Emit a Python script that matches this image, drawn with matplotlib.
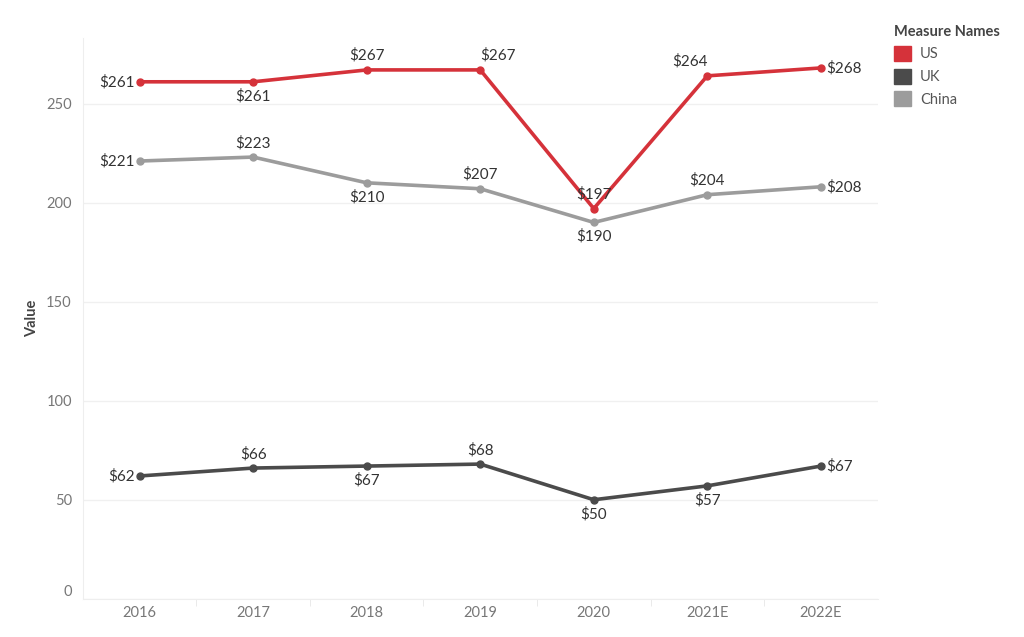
import matplotlib.pyplot as plt
from matplotlib.patches import Patch

plt.rcParams['font.family'] = ['Lato', 'DejaVu Sans']

years = ['2016', '2017', '2018', '2019', '2020', '2021E', '2022E']
us = [261, 261, 267, 267, 197, 264, 268]
uk = [62, 66, 67, 68, 50, 57, 67]
china = [221, 223, 210, 207, 190, 204, 208]

# where each label sits relative to its point
us_pos = ['left', 'below', 'above', 'aboveright', 'above', 'aboveleft', 'right']
uk_pos = ['left', 'above', 'below', 'above', 'below', 'below', 'right']
china_pos = ['left', 'above', 'below', 'above', 'below', 'above', 'right']

red = '#d5323a'
dark = '#4b4b4b'
grey = '#9c9c9c'

offsets = {
    'left': ((-5, 0), 'right', 'center'),
    'right': ((5, 0), 'left', 'center'),
    'above': ((0, 7), 'center', 'bottom'),
    'below': ((0, -7), 'center', 'top'),
    'aboveright': ((0, 7), 'left', 'bottom'),
    'aboveleft': ((0, 7), 'right', 'bottom'),
}

fig = plt.figure(figsize=(10.24, 6.37), dpi=100)
ax = fig.add_axes([0.081, 0.06, 0.776, 0.88])

x = list(range(len(years)))
for vals, pos, col in [(us, us_pos, red), (uk, uk_pos, dark), (china, china_pos, grey)]:
    ax.plot(x, vals, color=col, linewidth=2.6, marker='o', markersize=5, zorder=3)
    for xi, v, p in zip(x, vals, pos):
        off, ha, va = offsets[p]
        ax.annotate('$' + str(v), (xi, v), xytext=off, textcoords='offset pixels',
                    ha=ha, va=va, fontsize=11, color='#333333', zorder=4)

ax.set_xlim(-0.5, 6.5)
ax.set_ylim(0, 283)
ax.set_xticks(x)
ax.set_xticklabels(years)
ax.set_xticks([i + 0.5 for i in range(6)], minor=True)
ax.set_yticks([0, 50, 100, 150, 200, 250])
ax.tick_params(axis='x', which='major', length=0, pad=5, labelsize=10.5, labelcolor='#777777')
ax.tick_params(axis='x', which='minor', length=5, color='#e6e6e6')
ax.tick_params(axis='y', length=0, pad=8, labelsize=10.5, labelcolor='#777777')
ax.get_yticklabels()[0].set_verticalalignment('bottom')
ax.grid(axis='y', color='#f0f0f0', linewidth=1)
ax.set_axisbelow(True)
for s in ['top', 'right']:
    ax.spines[s].set_visible(False)
ax.spines['left'].set_color('#eeeeee')
ax.spines['bottom'].set_color('#eeeeee')
ax.set_ylabel('Value', fontsize=10.5, color='#444444', fontweight='bold', labelpad=5)

handles = [Patch(facecolor=red, edgecolor=red), Patch(facecolor=dark, edgecolor=dark),
           Patch(facecolor=grey, edgecolor=grey)]
leg = fig.legend(handles, ['US', 'UK', 'China'], title='Measure Names', loc='upper left',
                 bbox_to_anchor=(0.860, 0.982), frameon=False, fontsize=10.5,
                 title_fontsize=10.5, handlelength=1.2, handleheight=1.2,
                 handletextpad=0.6, labelspacing=0.5, alignment='left')
leg.get_title().set_fontweight('bold')
leg.get_title().set_color('#444444')
for t in leg.get_texts():
    t.set_color('#555555')

fig.savefig('out.png', dpi=100)
